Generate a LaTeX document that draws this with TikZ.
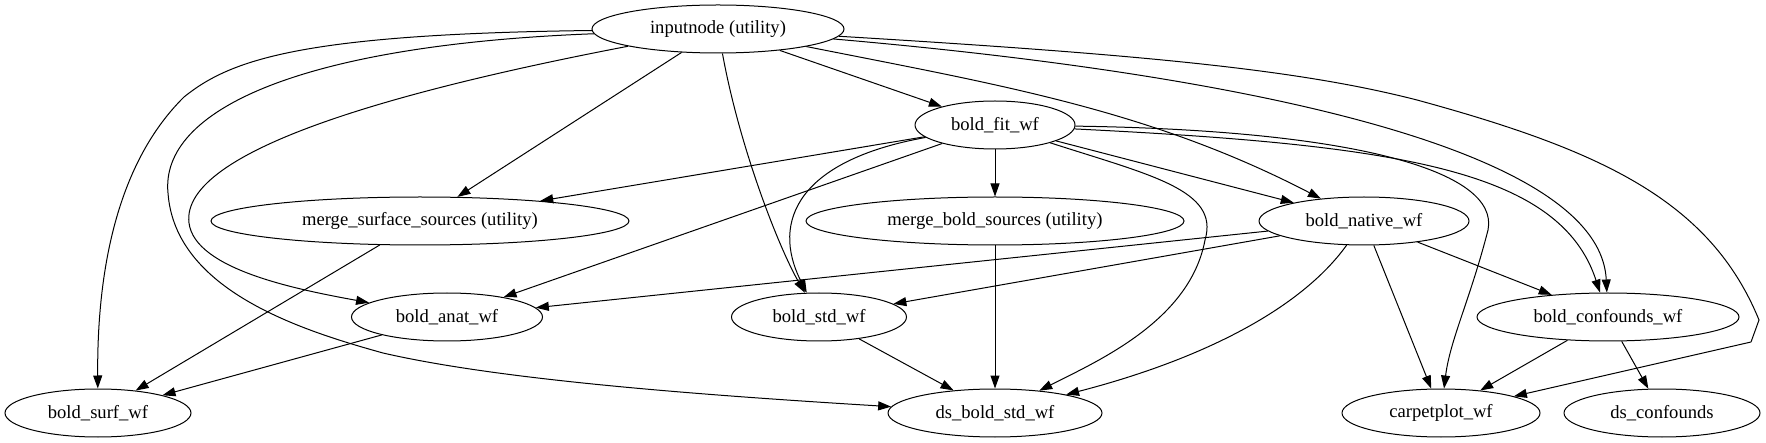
\documentclass[tikz,border=0pt]{standalone}
\usepackage{fontspec}
\setmainfont{Liberation Serif}
\usetikzlibrary{shapes.geometric,arrows.meta}
\begin{document}
\begin{tikzpicture}[x=1pt,y=-1pt,
  nd/.style={ellipse,draw,line width=1pt,inner sep=0pt,minimum height=48pt,font=\fontsize{18.6}{20}\selectfont},
  e/.style={line width=1pt,-{Triangle[length=13pt,width=9pt]}}]
\useasboundingbox (0,0) rectangle (1766,443);
\node[nd,minimum width=252] (in) at (718,29) {inputnode (utility)};
\node[nd,minimum width=160] (fit) at (995,125) {bold\_fit\_wf};
\node[nd,minimum width=418] (ms) at (420,221) {merge\_surface\_sources (utility)};
\node[nd,minimum width=378] (mb) at (995,221) {merge\_bold\_sources (utility)};
\node[nd,minimum width=210] (nat) at (1364,221) {bold\_native\_wf};
\node[nd,minimum width=191] (anat) at (447,317) {bold\_anat\_wf};
\node[nd,minimum width=175] (std) at (819,317) {bold\_std\_wf};
\node[nd,minimum width=262] (conf) at (1608,317) {bold\_confounds\_wf};
\node[nd,minimum width=186] (surf) at (98,413) {bold\_surf\_wf};
\node[nd,minimum width=214] (ds) at (995,413) {ds\_bold\_std\_wf};
\node[nd,minimum width=198] (carp) at (1441,413) {carpetplot\_wf};
\node[nd,minimum width=196] (dsc) at (1662,413) {ds\_confounds};
\coordinate (a1) at (184,97);
\coordinate (a2) at (168,193);
\coordinate (a3) at (383,353);
\coordinate (a4) at (189,223);
\coordinate (a5) at (1417,100);
\coordinate (a6) at (1759,320);
\coordinate (a7) at (1751,342);
\coordinate (a8) at (1205,240);
\coordinate (a9) at (1488,230);
% inputnode edges
\draw[e] (in) .. controls (300,34) and (230,60) .. (a1) .. controls (110,170) and (97,290) .. (surf);
\draw[line width=1pt] (in) .. controls (300,45) and (160,110) .. (a2) .. controls (175,290) and (300,330) .. (a3);
\draw[e] (a3) .. controls (500,380) and (700,395) .. (ds);
\draw[e] (in) .. controls (400,90) and (180,150) .. (a4) .. controls (195,270) and (300,290) .. (anat);
\draw[e] (in) -- (ms);
\draw[e] (in) .. controls (740,150) and (780,250) .. (std);
\draw[e] (in) -- (fit);
\draw[e] (in) .. controls (1000,85) and (1150,110) .. (nat);
\draw[e] (in) .. controls (1250,75) and (1600,150) .. (conf);
\draw[line width=1pt] (in) .. controls (1150,55) and (1300,70) .. (a5) .. controls (1600,150) and (1710,200) .. (a6) -- (a7);
\draw[e] (a7) -- (carp);
% bold_fit edges
\draw[e] (fit) -- (ms);
\draw[e] (fit) -- (anat);
\draw[e] (fit) .. controls (800,160) and (770,220) .. (std);
\draw[e] (fit) -- (mb);
\draw[line width=1pt] (fit) .. controls (1150,175) and (1220,190) .. (a8);
\draw[e] (a8) .. controls (1190,320) and (1100,360) .. (ds);
\draw[e] (fit) -- (nat);
\draw[line width=1pt] (fit) .. controls (1350,130) and (1500,170) .. (a9);
\draw[e] (a9) .. controls (1470,300) and (1450,340) .. (carp);
\draw[e] (fit) .. controls (1400,145) and (1560,170) .. (conf);
% others
\draw[e] (ms) -- (surf);
\draw[e] (anat) -- (surf);
\draw[e] (mb) -- (ds);
\draw[e] (std) -- (ds);
\draw[e] (nat) -- (anat);
\draw[e] (nat) -- (std);
\draw[e] (nat) .. controls (1300,310) and (1200,360) .. (ds);
\draw[e] (nat) -- (carp);
\draw[e] (nat) -- (conf);
\draw[e] (conf) -- (carp);
\draw[e] (conf) -- (dsc);
\end{tikzpicture}
\end{document}
